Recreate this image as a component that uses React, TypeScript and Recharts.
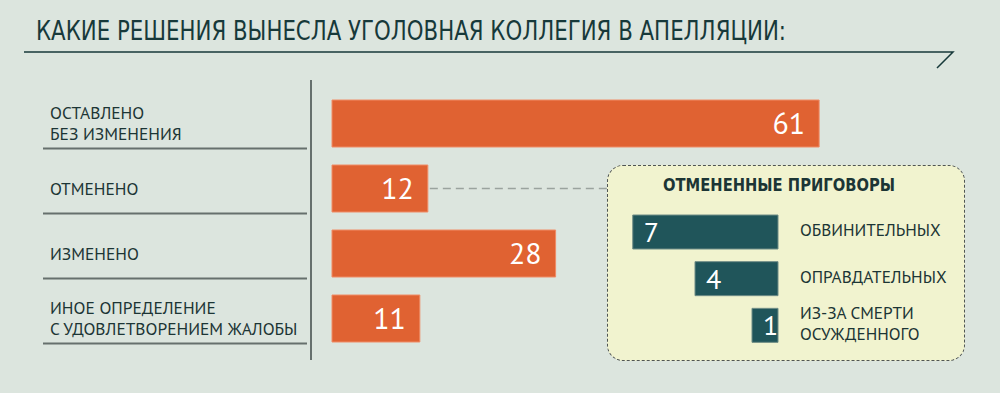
import React from 'react';
import { BarChart, Bar, XAxis, YAxis, LabelList } from 'recharts';

// decisions of the appeal board
const categories = [
  'ОСТАВЛЕНО\nБЕЗ ИЗМЕНЕНИЯ',
  'ОТМЕНЕНО',
  'ИЗМЕНЕНО',
  'ИНОЕ ОПРЕДЕЛЕНИЕ\nС УДОВЛЕТВОРЕНИЕМ ЖАЛОБЫ',
];
const values = [61, 12, 28, 11];

// breakdown of cancelled verdicts
const subCategories = ['ОБВИНИТЕЛЬНЫХ', 'ОПРАВДАТЕЛЬНЫХ', 'ИЗ-ЗА СМЕРТИ\nОСУЖДЕННОГО'];
const subValues = [7, 4, 1];

const TITLE = 'КАКИЕ РЕШЕНИЯ ВЫНЕСЛА УГОЛОВНАЯ КОЛЛЕГИЯ В АПЕЛЛЯЦИИ:';
const SUB_TITLE = 'ОТМЕНЕННЫЕ ПРИГОВОРЫ';
const LINKED = 'ОТМЕНЕНО';

const BG = '#dce5de';
const ORANGE = '#e06232';
const TEAL = '#20555a';
const INK = '#1c3535';
const RULE = '#66706d';
const FONT = '"PT Sans", "Open Sans", "Noto Sans", sans-serif';
const NARROW = '"Liberation Sans Narrow", "DejaVu Sans Condensed", sans-serif';

const BOX = { left: 607, top: 165, width: 358, height: 196 };

const mainData = categories.map((name, i) => ({ name, value: values[i] }));
const subData = subCategories.map((name, i) => ({ name, value: subValues[i] }));

function MainTick(props: any) {
  const { y, payload } = props;
  const lines = String(payload.value).split('\n');
  const lh = 21.5;
  const start = y - ((lines.length - 1) * lh) / 2;
  return (
    <g>
      <text x={50} y={start} fill={INK} fontSize={17.4} fontFamily={FONT}>
        {lines.map((l, i) => (
          <tspan key={i} x={50} dy={i === 0 ? '0.35em' : lh}>
            {l}
          </tspan>
        ))}
      </text>
      <line x1={43} x2={307} y1={y + 25} y2={y + 25} stroke={RULE} strokeWidth={2} />
    </g>
  );
}

function SubTick(props: any) {
  const { x, y, payload } = props;
  const lines = String(payload.value).split('\n');
  const lh = 21.5;
  const start = y - ((lines.length - 1) * lh) / 2;
  return (
    <text x={x + 22} y={start - 2} fill={INK} fontSize={17.2} fontFamily={FONT}>
      {lines.map((l, i) => (
        <tspan key={i} x={x + 22} dy={i === 0 ? '0.35em' : lh}>
          {l}
        </tspan>
      ))}
    </text>
  );
}

function MainValue(props: any) {
  const { x, y, width, height, value, index } = props;
  const cy = y + height / 2;
  const linked = mainData[index]?.name === LINKED;
  return (
    <g>
      {linked && (
        <line
          x1={x + width + 2}
          x2={BOX.left}
          y1={cy}
          y2={cy}
          stroke="#9aa39e"
          strokeWidth={1.5}
          strokeDasharray="8 5"
        />
      )}
      <text
        x={x + width - 14}
        y={cy}
        dy="0.36em"
        textAnchor="end"
        fill="#fff"
        fontSize={30}
        fontFamily={FONT}
      >
        {value}
      </text>
    </g>
  );
}

function SubValue(props: any) {
  const { x, y, width, height, value } = props;
  const left = Math.min(x, x + width);
  return (
    <text
      x={left + 11}
      y={y + height / 2}
      dy="0.36em"
      fill="#fff"
      fontSize={28}
      fontFamily={FONT}
    >
      {value}
    </text>
  );
}

export default function App() {
  return (
    <div
      style={{
        position: 'absolute',
        left: 0,
        top: 0,
        width: 1000,
        height: 393,
        background: BG,
        overflow: 'hidden',
      }}
    >
      {/* Main bars */}
      <div style={{ position: 'absolute', left: 0, top: 0 }}>
        <BarChart
          width={1000}
          height={393}
          layout="vertical"
          data={mainData}
          margin={{ top: 80, right: 109, bottom: 33, left: 0 }}
        >
          <XAxis type="number" domain={[0, 70]} hide padding={{ left: 21, right: 0 }} />
          <YAxis
            type="category"
            dataKey="name"
            width={311}
            padding={{ top: 11, bottom: 9 }}
            axisLine={{ stroke: RULE, strokeWidth: 2 }}
            tickLine={false}
            tick={<MainTick />}
            interval={0}
          />
          <Bar
            dataKey="value"
            fill={ORANGE}
            stroke="#f08c66"
            strokeWidth={1}
            barSize={47}
            isAnimationActive={false}
          >
            <LabelList dataKey="value" content={<MainValue />} />
          </Bar>
        </BarChart>
      </div>

      {/* Inset box */}
      <div
        style={{
          position: 'absolute',
          left: BOX.left,
          top: BOX.top,
          width: BOX.width,
          height: BOX.height,
          boxSizing: 'border-box',
          background: '#f1f3cf',
          border: '1.5px dashed #505554',
          borderRadius: 16,
        }}
      />

      {/* Cancelled verdicts */}
      <div style={{ position: 'absolute', left: 0, top: 0 }}>
        <BarChart
          width={1000}
          height={393}
          layout="vertical"
          data={subData}
          margin={{ top: 209, right: 32, bottom: 44, left: 612 }}
        >
          <XAxis type="number" domain={[0, 8]} reversed hide />
          <YAxis
            type="category"
            dataKey="name"
            orientation="right"
            width={190}
            axisLine={false}
            tickLine={false}
            tickSize={0}
            tickMargin={0}
            tick={<SubTick />}
            interval={0}
          />
          <Bar
            dataKey="value"
            fill={TEAL}
            stroke="#6f8d86"
            strokeWidth={1}
            barSize={34}
            minPointSize={26}
            isAnimationActive={false}
          >
            <LabelList dataKey="value" content={<SubValue />} />
          </Bar>
        </BarChart>
      </div>

      {/* Headings */}
      <svg
        width={1000}
        height={393}
        style={{ position: 'absolute', left: 0, top: 0, pointerEvents: 'none' }}
      >
        <text
          x={36}
          y={40}
          fill="#17393a"
          fontSize={26}
          fontFamily={NARROW}
          textLength={750}
          lengthAdjust="spacingAndGlyphs"
        >
          {TITLE}
        </text>
        <polyline
          points="24,52 953,52 937,68"
          fill="none"
          stroke="#17393a"
          strokeWidth={1.5}
        />
        <text
          x={779}
          y={185}
          dy="0.35em"
          textAnchor="middle"
          fill={INK}
          fontSize={17}
          fontWeight="bold"
          fontFamily={NARROW}
          textLength={232}
          lengthAdjust="spacingAndGlyphs"
        >
          {SUB_TITLE}
        </text>
      </svg>
    </div>
  );
}
